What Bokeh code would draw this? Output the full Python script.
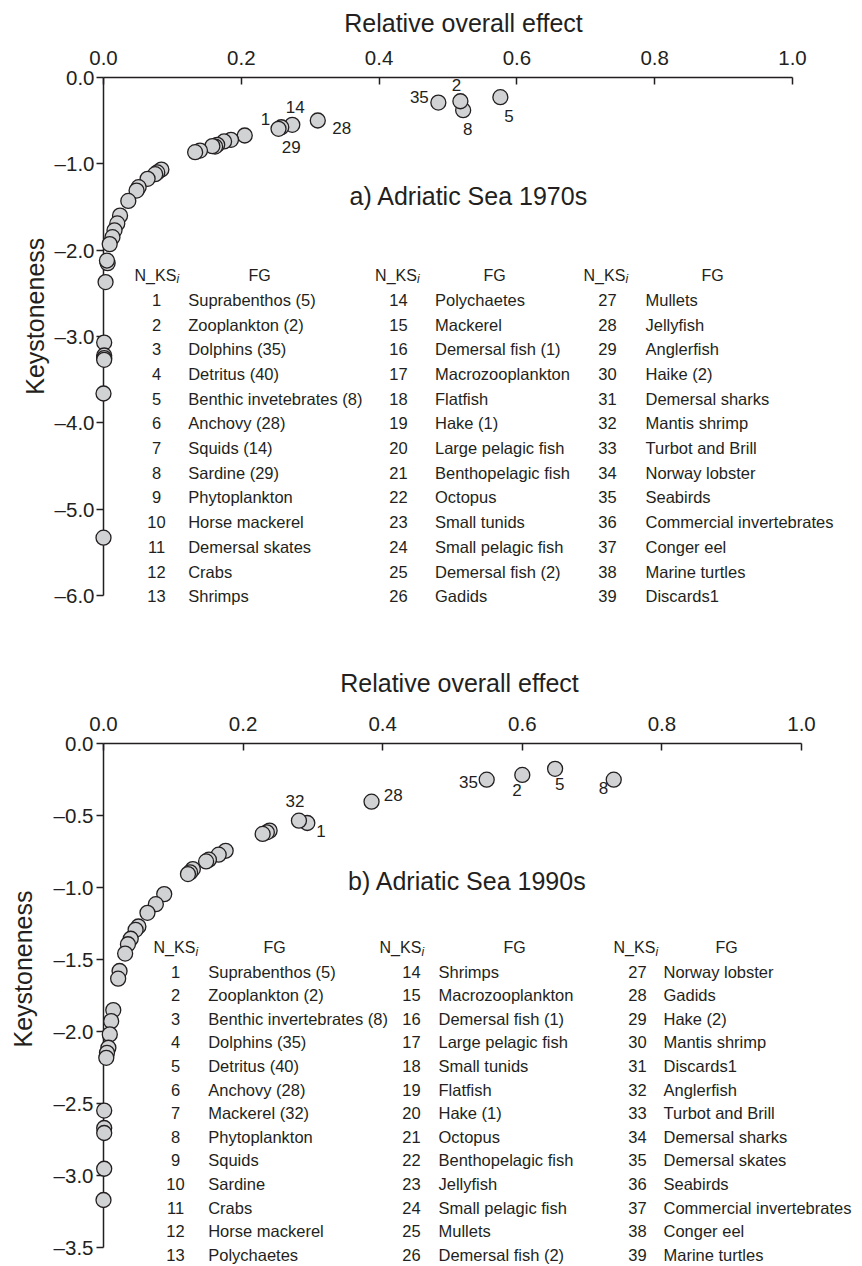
from bokeh.plotting import figure
from bokeh.layouts import column
from bokeh.models import FixedTicker, ColumnDataSource
from bokeh.core.properties import value
from bokeh.embed import file_html
from bokeh.resources import INLINE
import math

FONT = "Liberation Sans"
INK = "#231f20"
FILL = "#d1d2d4"

# ---------------- data: Adriatic Sea 1970s ----------------
x70 = [0.576, 0.522, 0.518, 0.486, 0.311, 0.274, 0.258, 0.254,
       0.205, 0.185, 0.175, 0.165, 0.162, 0.158, 0.140, 0.133,
       0.084, 0.078, 0.075, 0.064, 0.051, 0.048, 0.036,
       0.024, 0.020, 0.016, 0.013, 0.009, 0.006, 0.005, 0.003,
       0.001, 0.001, 0.001, 0.001, 0.000, 0.000]
y70 = [-0.228, -0.379, -0.275, -0.290, -0.498, -0.548, -0.576, -0.594,
       -0.672, -0.722, -0.741, -0.780, -0.800, -0.795, -0.846, -0.865,
       -1.066, -1.100, -1.120, -1.174, -1.270, -1.310, -1.430,
       -1.600, -1.690, -1.770, -1.850, -1.930, -2.150, -2.120, -2.370,
       -3.070, -3.220, -3.250, -3.270, -3.660, -5.330]
lab70 = ["5", "8", "2", "35", "28", "14", "29", "1"]

fg70 = ["Suprabenthos (5)", "Zooplankton (2)", "Dolphins (35)", "Detritus (40)",
        "Benthic invetebrates (8)", "Anchovy (28)", "Squids (14)", "Sardine (29)",
        "Phytoplankton", "Horse mackerel", "Demersal skates", "Crabs", "Shrimps",
        "Polychaetes", "Mackerel", "Demersal fish (1)", "Macrozooplankton", "Flatfish",
        "Hake (1)", "Large pelagic fish", "Benthopelagic fish", "Octopus", "Small tunids",
        "Small pelagic fish", "Demersal fish (2)", "Gadids",
        "Mullets", "Jellyfish", "Anglerfish", "Haike (2)", "Demersal sharks",
        "Mantis shrimp", "Turbot and Brill", "Norway lobster", "Seabirds",
        "Commercial invertebrates", "Conger eel", "Marine turtles", "Discards1"]

# ---------------- data: Adriatic Sea 1990s ----------------
x90 = [0.731, 0.647, 0.600, 0.549, 0.384, 0.292, 0.280,
       0.238, 0.234, 0.228,
       0.175, 0.165, 0.151, 0.147, 0.128, 0.124, 0.121,
       0.087, 0.075, 0.063, 0.050, 0.046, 0.039, 0.035, 0.031,
       0.023, 0.021,
       0.014, 0.011, 0.009, 0.007, 0.005, 0.004,
       0.001, 0.001, 0.001, 0.001, 0.000]
y90 = [-0.251, -0.176, -0.218, -0.251, -0.404, -0.552, -0.536,
       -0.605, -0.617, -0.628,
       -0.745, -0.772, -0.807, -0.819, -0.872, -0.895, -0.907,
       -1.046, -1.116, -1.176, -1.271, -1.294, -1.356, -1.394, -1.459,
       -1.580, -1.633,
       -1.851, -1.928, -2.020, -2.113, -2.148, -2.183,
       -2.549, -2.670, -2.705, -2.953, -3.170]
lab90 = ["8", "5", "2", "35", "28", "1", "32"]

fg90 = ["Suprabenthos (5)", "Zooplankton (2)", "Benthic invertebrates (8)", "Dolphins (35)",
        "Detritus (40)", "Anchovy (28)", "Mackerel (32)", "Phytoplankton", "Squids",
        "Sardine", "Crabs", "Horse mackerel", "Polychaetes",
        "Shrimps", "Macrozooplankton", "Demersal fish (1)", "Large pelagic fish",
        "Small tunids", "Flatfish", "Hake (1)", "Octopus", "Benthopelagic fish",
        "Jellyfish", "Small pelagic fish", "Mullets", "Demersal fish (2)",
        "Norway lobster", "Gadids", "Hake (2)", "Mantis shrimp", "Discards1",
        "Anglerfish", "Turbot and Brill", "Demersal sharks", "Demersal skates",
        "Seabirds", "Commercial invertebrates", "Conger eel", "Marine turtles"]

x_ticks = [0.0, 0.2, 0.4, 0.6, 0.8, 1.0]
y_ticks70 = [0.0, -1.0, -2.0, -3.0, -4.0, -5.0, -6.0]
y_ticks90 = [0.0, -0.5, -1.0, -1.5, -2.0, -2.5, -3.0, -3.5]

# ---------------- layout / style ----------------
# page-pixel geometry of each panel frame
G70 = dict(left=103, top=77, w=689, h=518, x0=0.0, x1=1.0, y0=-6.0, y1=0.0,
           fig_top=0, fig_h=633)
G90 = dict(left=102, top=743, w=698, h=504, x0=0.0, x1=1.0, y0=-3.5, y1=0.0,
           fig_top=633, fig_h=633)

# label offsets (screen px, y downward)
OFF70 = {"5": (8.5, 19.3), "8": (4.5, 18.7), "2": (-4, -16.4), "35": (-19, -5.5),
         "28": (24, 7.8), "14": (3, -17.6), "29": (10, 20), "1": (-13, -10)}
OFF90 = {"8": (-10.3, 8), "5": (4.5, 15.4), "2": (-5.2, 15.2), "35": (-18.3, 2),
         "28": (21.7, -6.8), "32": (-4, -20), "1": (13.7, 7.7)}

# table layout: header y, first row y, row step, and per column
# (number centre, name left, header left, FG centre)
TAB70 = dict(hy=274.5, ry=299.3, dy=24.7,
             cols=[(156, 187.7, 134, 259), (398, 434.5, 374.6, 494), (607, 645, 583, 712)])
TAB90 = dict(hy=947.0, ry=971.0, dy=23.6,
             cols=[(174, 206.7, 152, 273), (410, 437, 378, 513), (636, 662, 612, 725)])

TITLE70 = dict(xt=(463, 22.5), panel=(468.5, 195), ylab=(34, 315.7))
TITLE90 = dict(xt=(458, 682), panel=(466, 880), ylab=(21.7, 968.5))


def to_data(g, px, py):
    x = g["x0"] + (px - g["left"]) / g["w"] * (g["x1"] - g["x0"])
    y = g["y1"] - (py - g["top"]) / g["h"] * (g["y1"] - g["y0"])
    return x, y


def fmt(v):
    s = "%.1f" % v
    return s.replace("-", "\u2013")


def make_panel(g, xs, ys, labels, offs, names, tab, titles, panel_title, y_ticks, ystand):
    top_border = g["top"] - g["fig_top"]
    bottom_border = g["fig_h"] - top_border - g["h"]
    p = figure(frame_width=g["w"], frame_height=g["h"],
               x_range=(g["x0"], g["x1"]), y_range=(g["y0"], g["y1"]),
               x_axis_location="above",
               min_border_left=g["left"], min_border_right=862 - g["left"] - g["w"],
               min_border_top=top_border, min_border_bottom=bottom_border,
               toolbar_location=None, output_backend="svg")
    p.grid.visible = False
    p.outline_line_color = None
    p.background_fill_color = "white"
    p.border_fill_color = "white"

    for ax in (p.xaxis[0], p.yaxis[0]):
        ax.axis_line_color = INK
        ax.axis_line_width = 1.5
        ax.major_tick_line_color = INK
        ax.major_tick_line_width = 1.5
        ax.minor_tick_line_color = None
        ax.major_label_text_font = FONT
        ax.major_label_text_font_size = "20.5px"
        ax.major_label_text_color = INK

    xa = p.xaxis[0]
    xa.ticker = FixedTicker(ticks=x_ticks)
    xa.major_label_overrides = {t: fmt(t) for t in x_ticks}
    xa.major_tick_in = 7
    xa.major_tick_out = 0
    xa.major_label_standoff = 13

    ya = p.yaxis[0]
    ya.ticker = FixedTicker(ticks=y_ticks)
    ya.major_label_overrides = {t: fmt(t) for t in y_ticks}
    ya.major_tick_in = 0
    ya.major_tick_out = 7
    ya.major_label_standoff = ystand

    common = dict(text_font=value(FONT), text_color=INK, text_baseline="middle",
                  level="overlay")

    # axis titles and panel title
    tx, ty = to_data(g, *titles["xt"])
    p.text(x=[tx], y=[ty], text=["Relative overall effect"], text_align="center",
           text_font_size="25px", **common)
    tx, ty = to_data(g, *titles["ylab"])
    p.text(x=[tx], y=[ty], text=["Keystoneness"], text_align="center",
           angle=math.pi / 2, text_font_size="25px", **common)
    tx, ty = to_data(g, *titles["panel"])
    p.text(x=[tx], y=[ty], text=[panel_title], text_align="center",
           text_font_size="25px", **common)

    # points
    p.scatter(xs, ys, size=15, fill_color=FILL, line_color=INK, line_width=1.3,
              level="overlay")

    # point labels (first points of the series carry a rank label)
    n = len(labels)
    lsrc = ColumnDataSource(dict(
        x=xs[:n], y=ys[:n], t=labels,
        dx=[offs[l][0] for l in labels], dy=[offs[l][1] for l in labels]))
    p.text(x="x", y="y", text="t", x_offset="dx", y_offset="dy", source=lsrc,
           text_align="center", text_font_size="17px", **common)

    # rank / functional group table
    nums_x, nums_y, nums_t = [], [], []
    nm_x, nm_y, nm_t = [], [], []
    hd_x, hd_y = [], []
    sub_x, sub_y = [], []
    fg_x, fg_y = [], []
    for c, (nc, tl, hl, fc) in enumerate(tab["cols"]):
        for r in range(13):
            k = c * 13 + r
            py = tab["ry"] + r * tab["dy"]
            x, y = to_data(g, nc, py)
            nums_x.append(x); nums_y.append(y); nums_t.append(str(k + 1))
            x, y = to_data(g, tl, py)
            nm_x.append(x); nm_y.append(y); nm_t.append(names[k])
        x, y = to_data(g, hl, tab["hy"])
        hd_x.append(x); hd_y.append(y)
        x, y = to_data(g, hl + 42, tab["hy"] + 4)
        sub_x.append(x); sub_y.append(y)
        x, y = to_data(g, fc, tab["hy"])
        fg_x.append(x); fg_y.append(y)

    p.text(x=nums_x, y=nums_y, text=nums_t, text_align="center",
           text_font_size="16.5px", **common)
    p.text(x=nm_x, y=nm_y, text=nm_t, text_align="left",
           text_font_size="16.5px", **common)
    p.text(x=hd_x, y=hd_y, text=["N_KS"] * len(hd_x), text_align="left",
           text_font_size="16px", **common)
    p.text(x=sub_x, y=sub_y, text=["i"] * len(sub_x), text_align="left",
           text_font_size="12px", text_font_style="italic", **common)
    p.text(x=fg_x, y=fg_y, text=["FG"] * len(fg_x), text_align="center",
           text_font_size="16px", **common)
    return p


p70 = make_panel(G70, x70, y70, lab70, OFF70, fg70, TAB70, TITLE70,
                 "a) Adriatic Sea 1970s", y_ticks70, 2)
p90 = make_panel(G90, x90, y90, lab90, OFF90, fg90, TAB90, TITLE90,
                 "b) Adriatic Sea 1990s", y_ticks90, 3)

layout = column(p70, p90, spacing=0)
open("out.html", "w").write(file_html(layout, INLINE))
